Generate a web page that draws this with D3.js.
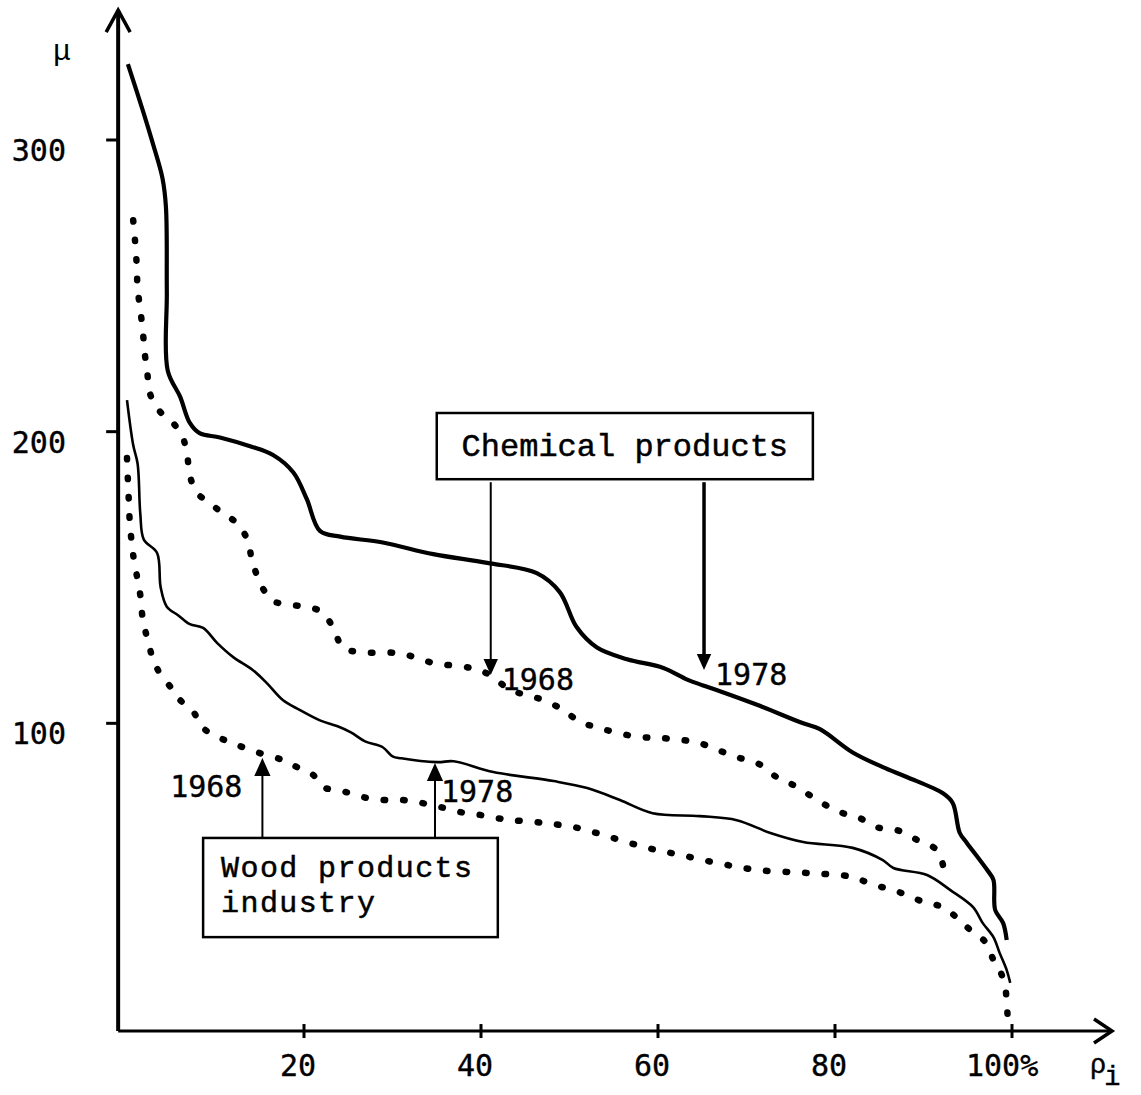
<!DOCTYPE html>
<html>
<head>
<meta charset="utf-8">
<script src="https://cdn.jsdelivr.net/npm/d3@7"></script>
<style>
  body { margin: 0; background: #fff; }
  svg { display: block; }
  .tick-label { font-family: "DejaVu Sans Mono", monospace; font-size: 30px; fill: #000; stroke: #000; stroke-width: 0.4px; }
  .box-text { font-family: "Liberation Mono", "Courier New", monospace; font-size: 32px; fill: #000; stroke: #000; stroke-width: 0.5px; }
  .box-text.small { font-size: 30px; letter-spacing: 1.4px; }
</style>
</head>
<body>
<svg width="1141" height="1095"></svg>
<script>
// percent of industries (x) vs mu (y)
var chem1978 = [[0.1,326],[1.8,310],[2.9,299],[4.0,287],[4.4,277],[4.5,248],[4.6,221],[6.0,212],[7.1,203],
  [8.2,199.5],[10.5,198],[13.9,195],[16.5,192],[18.8,186],[20.3,177],[21.8,166],[24.1,164],[28.9,162],
  [34.6,158],[40.7,155],[46.3,151.5],[48.9,145],[50.8,133],[53.1,126],[56.5,122],[60.6,119],[63.3,115],
  [65.1,113],[67.0,111],[71.5,106],[76.4,100],[78.3,98],[82.0,90],[85.4,85],[88.1,81.6],[92.2,76],
  [93.3,72.7],[94.1,62.4],[94.9,59],[97.2,49.7],[97.9,46.3],[98.1,36],[99.0,31.5],[99.4,25.7]];

var chem1968 = [[0.7,272.5],[0.9,265.7],[1.1,257],[1.2,249],[1.5,242],[1.8,234],[2.0,227],[2.3,220],[2.6,213],
  [3.7,207],[5.2,203],[6.3,198],[6.8,192],[7.1,185],[7.9,179],[9.4,175.5],[10.8,172],[12.4,168.7],[13.6,163],
  [14.2,155],[15.4,146],[16.5,142],[18.4,140.6],[20.3,140],[22.1,138],[23.3,132.7],[24.4,126],[26.3,124.4],
  [30.8,124],[34.6,120.7],[38.8,119],[41.0,116.6],[43.3,111.4],[45.2,109.7],[47.0,108],[49.3,104.6],
  [51.2,100.4],[53.1,98.7],[55.4,96.7],[58.0,95.3],[60.2,95],[62.7,94.3],[64.7,93.2],[66.8,90.8],
  [68.9,88.4],[71.2,86.4],[73.4,81.6],[75.7,78.2],[78.5,72.7],[80.9,69.2],[82.8,67.5],[84.7,64.4],
  [87.0,63.4],[89.3,60],[91.5,56.6],[92.2,51.4]];

var wood1978 = [[0,210.8],[0.7,195.4],[1.2,189],[1.5,172],[1.9,163],[3.4,158.4],[3.8,146.7],[4.5,140],
  [5.8,137],[7.1,134],[8.6,132.7],[10.2,127.5],[12.0,122.7],[14.2,118.3],[15.8,113.8],[17.6,108],
  [19.5,104.6],[21.8,101],[23.8,99],[25.3,96.9],[26.9,93.8],[28.9,91.8],[30.0,88.7],[31.0,88],
  [35.1,86.7],[36.9,87],[41.4,83.3],[48.2,80.2],[52.0,77.8],[55.7,73.7],[59.4,69.2],[64.7,68.2],
  [68.9,66.8],[72.7,62.4],[76.4,59.3],[82.0,57.3],[85.4,53.1],[86.6,50.4],[90.4,48],[93.0,42.9],
  [95.6,37],[96.7,31.5],[97.9,26.7],[98.6,21.3],[99.4,15.4],[99.8,11]];

var wood1968 = [[0,191],[0.1,183.4],[0.2,176.6],[0.3,169.7],[0.5,162.8],[0.7,157.7],[1.1,150.8],[1.5,144],
  [1.8,135.4],[2.4,127.9],[2.9,122.4],[3.7,117.2],[5.2,111.4],[6.0,108],[7.5,103.9],[8.6,98.4],[10.5,95],
  [12.4,92.6],[15.0,89.8],[17.6,87.4],[19.2,85],[21.0,82.4],[22.1,78.2],[23.7,77.1],[25.2,76.1],
  [27.1,74.4],[29.1,73.7],[31.2,73.7],[33.3,72.7],[35.4,71.3],[37.6,69.6],[39.9,68.6],[41.8,67.5],
  [43.6,66.8],[47.2,65.8],[51.0,64.1],[54.9,60.7],[58.8,57.3],[62.5,54.9],[66.7,52.1],[71.3,49.7],
  [76.8,48.7],[82.0,47.3],[84.3,44.6],[86.6,42.9],[88.5,40.5],[90.4,38.4],[92.2,37],[93.8,33.3],
  [95.3,29.1],[97.0,25],[97.9,18.9],[98.6,15.4],[99.2,10.3],[99.4,4.1],[99.5,0]];

var xTicks = [20, 40, 60, 80, 100];
var xTickLabels = ["20", "40", "60", "80", "100%"];
var yTicks = [100, 200, 300];

// annotation anchors, in data units
var chemBox = [35.0, 206.4, 77.5, 183.7];   // x0, yTop, x1, yBottom
var woodBox = [8.6, 60.7, 41.9, 26.7];
var woodBoxLines = ["Wood products", "industry"];
var chemArrows = [{p: 41.1, tip: 116.6, w: 2, label: "1968"}, {p: 65.2, tip: 118.3, w: 3.5, label: "1978"}];
var woodArrows = [{p: 15.3, tip: 88.1, label: "1968", left: true}, {p: 34.8, tip: 86.4, label: "1978", left: false}];

var svg = d3.select("svg");

var x = d3.scaleLinear().domain([0, 100]).range([127, 1012]);
var y = d3.scaleLinear().domain([0, 300]).range([1015, 140]);

var axisX = x(-1), axisY = y(-5.5);

// axes
svg.append("line").attr("x1", axisX).attr("x2", axisX).attr("y1", axisY).attr("y2", y(344.5))
    .attr("stroke", "#000").attr("stroke-width", 4);
svg.append("path")
    .attr("d", "M" + (axisX - 12) + "," + (y(344.5) + 22) + "L" + axisX + "," + y(344.5) + "L" + (axisX + 12) + "," + (y(344.5) + 22))
    .attr("fill", "none").attr("stroke", "#000").attr("stroke-width", 3.5);
svg.append("line").attr("x1", axisX).attr("x2", x(111.3)).attr("y1", axisY).attr("y2", axisY)
    .attr("stroke", "#000").attr("stroke-width", 3);
svg.append("path")
    .attr("d", "M" + (x(111.3) - 18) + "," + (axisY - 12) + "L" + x(111.3) + "," + axisY + "L" + (x(111.3) - 18) + "," + (axisY + 12))
    .attr("fill", "none").attr("stroke", "#000").attr("stroke-width", 3.5);

svg.selectAll(".xt").data(xTicks).enter().append("line")
    .attr("x1", function (d) { return x(d); }).attr("x2", function (d) { return x(d); })
    .attr("y1", axisY - 7).attr("y2", axisY + 7)
    .attr("stroke", "#000").attr("stroke-width", 3);
svg.selectAll(".xl").data(xTicks).enter().append("text")
    .attr("class", "tick-label")
    .attr("x", function (d, i) { return i === 4 ? x(d) - 46 : x(d) - 6; })
    .attr("y", axisY + 45)
    .attr("text-anchor", function (d, i) { return i === 4 ? "start" : "middle"; })
    .text(function (d, i) { return xTickLabels[i]; });

svg.selectAll(".yt").data(yTicks).enter().append("line")
    .attr("x1", axisX - 12).attr("x2", axisX)
    .attr("y1", function (d) { return y(d); }).attr("y2", function (d) { return y(d); })
    .attr("stroke", "#000").attr("stroke-width", 3);
svg.selectAll(".yl").data(yTicks).enter().append("text")
    .attr("class", "tick-label")
    .attr("x", 66).attr("y", function (d) { return y(d) + 21; })
    .attr("text-anchor", "end")
    .text(function (d) { return d; });

svg.append("text").attr("x", 62).attr("y", 60).attr("text-anchor", "middle")
    .style("font-family", "Liberation Mono, monospace").style("font-size", "30px").text("\u03bc");
var rho = svg.append("text").attr("x", 1090).attr("y", 1073)
    .style("font-family", "Liberation Mono, monospace").style("font-size", "27px")
    .style("stroke", "#000").style("stroke-width", "0.4px");
rho.append("tspan").text("\u03c1");
rho.append("tspan").attr("dy", 12).attr("dx", -2).text("i");

// curves
var line = d3.line()
    .x(function (d) { return x(d[0]); })
    .y(function (d) { return y(d[1]); })
    .curve(d3.curveCatmullRom.alpha(0.5));

svg.append("path").datum(chem1978).attr("d", line)
    .attr("fill", "none").attr("stroke", "#000").attr("stroke-width", 4.2).attr("stroke-linejoin", "round");
svg.append("path").datum(wood1978).attr("d", line)
    .attr("fill", "none").attr("stroke", "#000").attr("stroke-width", 2.6).attr("stroke-linejoin", "round");
svg.append("path").datum(chem1968).attr("d", line)
    .attr("fill", "none").attr("stroke", "#000").attr("stroke-width", 6.5)
    .attr("stroke-linecap", "round").attr("stroke-dasharray", "1.5 18");
svg.append("path").datum(wood1968).attr("d", line)
    .attr("fill", "none").attr("stroke", "#000").attr("stroke-width", 6.5)
    .attr("stroke-linecap", "round").attr("stroke-dasharray", "1.5 18");

// labelled boxes
function box(b) {
    svg.append("rect")
        .attr("x", x(b[0])).attr("y", y(b[1]))
        .attr("width", x(b[2]) - x(b[0])).attr("height", y(b[3]) - y(b[1]))
        .attr("fill", "#fff").attr("stroke", "#000").attr("stroke-width", 2.5);
}
box(chemBox);
box(woodBox);

svg.append("text").attr("class", "box-text")
    .attr("x", (x(chemBox[0]) + x(chemBox[2])) / 2).attr("y", y(chemBox[1]) + 43)
    .attr("text-anchor", "middle").text("Chemical products");

svg.selectAll(".wood-line").data(woodBoxLines).enter().append("text")
    .attr("class", "box-text small")
    .attr("x", x(woodBox[0]) + 18)
    .attr("y", function (d, i) { return y(woodBox[1]) + 39 + i * 35; })
    .text(function (d) { return d; });

function arrowHead(px, py, dir, size) {
    // dir: 1 = pointing down, -1 = pointing up
    svg.append("path")
        .attr("d", "M" + px + "," + py + "L" + (px - size * 0.45) + "," + (py - dir * size) +
              "L" + (px + size * 0.45) + "," + (py - dir * size) + "Z")
        .attr("fill", "#000");
}

chemArrows.forEach(function (a) {
    svg.append("line").attr("x1", x(a.p)).attr("x2", x(a.p))
        .attr("y1", y(chemBox[3]) + 3).attr("y2", y(a.tip) - 4)
        .attr("stroke", "#000").attr("stroke-width", a.w);
    arrowHead(x(a.p), y(a.tip), 1, 16);
    svg.append("text").attr("class", "tick-label")
        .attr("x", x(a.p) + 11).attr("y", y(a.tip) + 15).text(a.label);
});

woodArrows.forEach(function (a) {
    svg.append("line").attr("x1", x(a.p)).attr("x2", x(a.p))
        .attr("y1", y(woodBox[1])).attr("y2", y(a.tip) + 4)
        .attr("stroke", "#000").attr("stroke-width", 2);
    arrowHead(x(a.p), y(a.tip), -1, 18);
    svg.append("text").attr("class", "tick-label")
        .attr("x", a.left ? x(a.p) - 20 : x(a.p) + 6).attr("y", y(a.tip) + 39)
        .attr("text-anchor", a.left ? "end" : "start").text(a.label);
});
</script>
</body>
</html>
